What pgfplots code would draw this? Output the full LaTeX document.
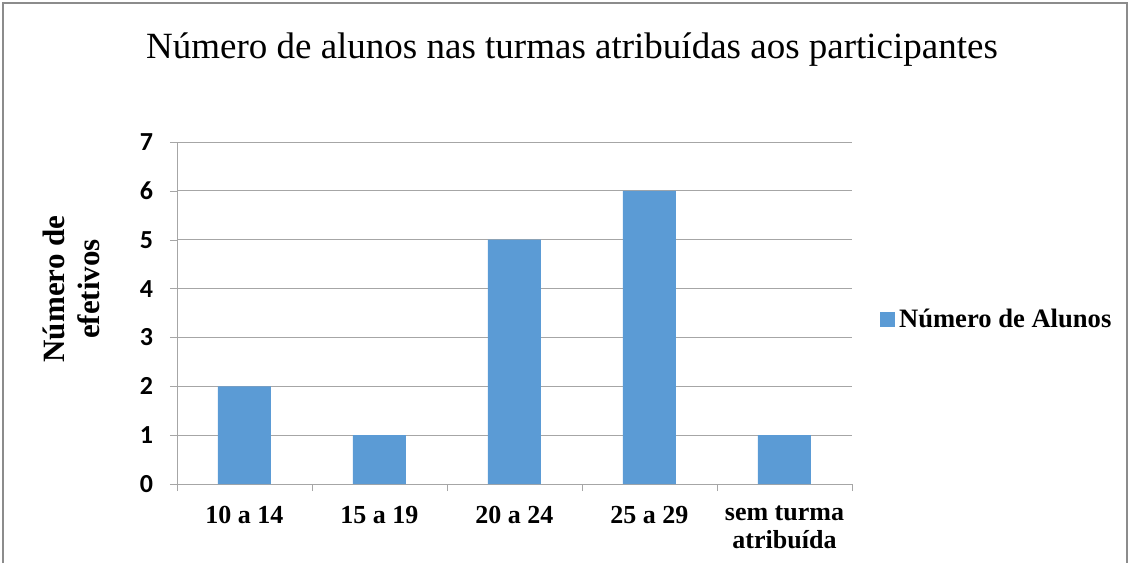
\documentclass[border=0pt]{standalone}
\usepackage{pgfplots}
\pgfplotsset{compat=1.18}
\usepackage{fontspec}
\setmainfont{Liberation Serif}
\newfontfamily\calibri{Carlito}
\definecolor{barblue}{HTML}{5B9BD5}
\definecolor{gridgray}{HTML}{A6A6A6}
\definecolor{framegray}{HTML}{8C8C8C}
\begin{document}
\begin{tikzpicture}[x=0.5pt,y=0.5pt]
\useasboundingbox (0,0) rectangle (1130,563);
\draw[framegray,line width=0.8pt] (3,0) -- (3,560) -- (1127,560) -- (1127,0);
\node[font=\fontsize{18.5}{20}\selectfont] at (572,513) {Número de alunos nas turmas atribuídas aos participantes};
\begin{axis}[
  at={(88.5pt,39.5pt)}, anchor=south west,
  scale only axis, width=337.5pt, height=171pt,
  xmin=-0.5, xmax=4.5, ymin=0, ymax=7,
  axis lines*=left,
  axis line style={gridgray,-},
  ytick={0,...,7},
  yticklabels={0,1,2,3,4,5,6,7},
  xtick={0,...,4},
  xticklabels={10 a 14,15 a 19,20 a 24,25 a 29,{sem turma\\atribuída}},
  minor xtick={-0.5,0.5,...,4.5},
  major x tick style={draw=none},
  minor x tick style={gridgray},
  y tick style={gridgray},
  tick align=outside,
  major tick length=3.5pt, minor tick length=3.5pt,
  ymajorgrids, grid style={gridgray, line width=0.5pt},
  xticklabel style={font=\fontsize{13}{14}\selectfont\bfseries, align=center, yshift=-4pt},
  yticklabel style={font=\fontsize{13}{14}\selectfont\calibri\bfseries, xshift=-5pt},
  ylabel={Número de\\efetivos},
  ylabel style={font=\fontsize{15.5}{17.5}\selectfont\bfseries, align=center, at={(axis description cs:-0.156,0.57)}, anchor=center},
  legend style={draw=none, at={(axis description cs:1.041,0.48)}, anchor=west, font=\fontsize{13.3}{15}\selectfont\bfseries, inner sep=0pt},
  ybar, bar width=26.5pt,
  clip=false,
]
\addplot[fill=barblue, draw=none, legend image code/.code={\fill[barblue] (0pt,-3.5pt) rectangle (7.5pt,4pt);}] coordinates {(0,2) (1,1) (2,5) (3,6) (4,1)};
\addlegendentry{Número de Alunos}
\end{axis}
\end{tikzpicture}
\end{document}
